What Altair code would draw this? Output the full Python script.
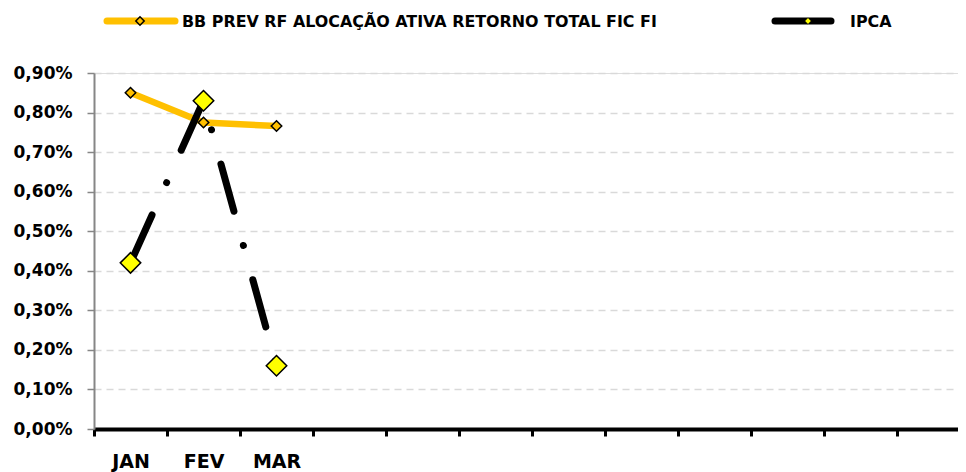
import altair as alt
import pandas as pd

months = ["JAN", "FEV", "MAR", "ABR", "MAI", "JUN", "JUL", "AGO", "SET", "OUT", "NOV", "DEZ"]
data_months = ["JAN", "FEV", "MAR"]
bb_values = [0.85, 0.775, 0.766]
ipca_values = [0.42, 0.83, 0.16]
series_names = ["BB PREV RF ALOCAÇÃO ATIVA RETORNO TOTAL FIC FI", "IPCA"]
y_ticks = [0.0, 0.1, 0.2, 0.3, 0.4, 0.5, 0.6, 0.7, 0.8, 0.9]

FONT = "DejaVu Sans"
ORANGE = "#FFC000"
YELLOW = "#FFFF00"

df_bb = pd.DataFrame({"mes": data_months, "valor": bb_values, "serie": series_names[0]})
df_ipca = pd.DataFrame({"mes": data_months, "valor": ipca_values, "serie": series_names[1]})

label_expr = "indexof(" + str(data_months) + ", datum.value) >= 0 ? datum.value : ''"

x_enc = alt.X(
    "mes:N",
    sort=months,
    scale=alt.Scale(type="band", domain=months, paddingInner=0, paddingOuter=0, range=[0, 876]),
    axis=alt.Axis(
        title=None,
        tickBand="extent",
        labelExpr=label_expr,
        labelAngle=0,
        labelFont=FONT,
        labelFontSize=19,
        labelFontWeight="bold",
        labelColor="black",
        labelPadding=16,
        labelBaseline="top",
        labelOverlap=False,
        domainColor="black",
        domainWidth=4,
        tickColor="black",
        tickWidth=3,
        tickSize=7,
        grid=False,
    ),
)
y_enc = alt.Y(
    "valor:Q",
    scale=alt.Scale(domain=[0, 0.9], nice=False),
    axis=alt.Axis(
        title=None,
        values=y_ticks,
        tickCount=10,
        labelExpr="replace(format(datum.value, '.2f'), '.', ',') + '%'",
        labelFont=FONT,
        labelFontSize=17,
        labelFontWeight="bold",
        labelColor="black",
        labelPadding=15,
        labelOverlap=False,
        labelBound=False,
        domainColor="#868686",
        domainWidth=2,
        tickColor="#868686",
        tickWidth=1.5,
        tickSize=7,
        grid=True,
        gridColor="#D9D9D9",
        gridDash=[7, 5],
        gridWidth=1.5,
    ),
)

bb_line = alt.Chart(df_bb).mark_line(
    color=ORANGE, strokeWidth=6.5, strokeJoin="round"
).encode(x=x_enc, y=y_enc)

ipca_line = alt.Chart(df_ipca).mark_line(
    color="black", strokeWidth=7, strokeCap="round",
    strokeDash=[49, 35.5, 0.01, 35.5], strokeDashOffset=116.5,
).encode(x=x_enc, y=y_enc)

bb_pts = alt.Chart(df_bb).mark_point(
    shape="diamond", filled=True, fill=ORANGE, stroke="black", strokeWidth=1.5,
    size=110, opacity=1,
).encode(x=x_enc, y=y_enc)

ipca_pts = alt.Chart(df_ipca).mark_point(
    shape="diamond", filled=True, fill=YELLOW, stroke="black", strokeWidth=1.5,
    size=420, opacity=1,
).encode(x=x_enc, y=y_enc)

# legend
leg_bb = pd.DataFrame({"serie": [series_names[0]]})
leg_ipca = pd.DataFrame({"serie": [series_names[1]]})
LY = -52

leg1_line = alt.Chart(leg_bb).mark_rule(color=ORANGE, strokeWidth=7, strokeCap="round").encode(
    x=alt.value(13), x2=alt.value(81), y=alt.value(LY))
leg1_pt = alt.Chart(leg_bb).mark_point(
    shape="diamond", filled=True, fill=ORANGE, stroke="black", strokeWidth=1.5, size=70, opacity=1
).encode(x=alt.value(46), y=alt.value(LY))
leg1_txt = alt.Chart(leg_bb).mark_text(
    align="left", baseline="middle", font=FONT, fontSize=15.9, fontWeight="bold", color="black"
).encode(x=alt.value(88), y=alt.value(LY + 1), text="serie:N")

leg2_line = alt.Chart(leg_ipca).mark_rule(color="black", strokeWidth=7, strokeCap="round").encode(
    x=alt.value(681), x2=alt.value(737), y=alt.value(LY))
leg2_pt = alt.Chart(leg_ipca).mark_point(
    shape="diamond", filled=True, fill=YELLOW, stroke="black", strokeWidth=0.5, size=40, opacity=1
).encode(x=alt.value(714), y=alt.value(LY))
leg2_txt = alt.Chart(leg_ipca).mark_text(
    align="left", baseline="middle", font=FONT, fontSize=15.9, fontWeight="bold", color="black"
).encode(x=alt.value(756), y=alt.value(LY + 1), text="serie:N")

chart = alt.layer(
    bb_line, ipca_line, bb_pts, ipca_pts,
    leg1_line, leg1_pt, leg1_txt, leg2_line, leg2_pt, leg2_txt,
).properties(
    width=864,
    height=356,
    autosize=alt.AutoSizeParams(type="none"),
    padding={"left": 86, "top": 65, "right": 0, "bottom": 43},
).configure_view(stroke=None).configure(background="white")

chart.save("out.html", embed_options={"renderer": "svg", "actions": False})
